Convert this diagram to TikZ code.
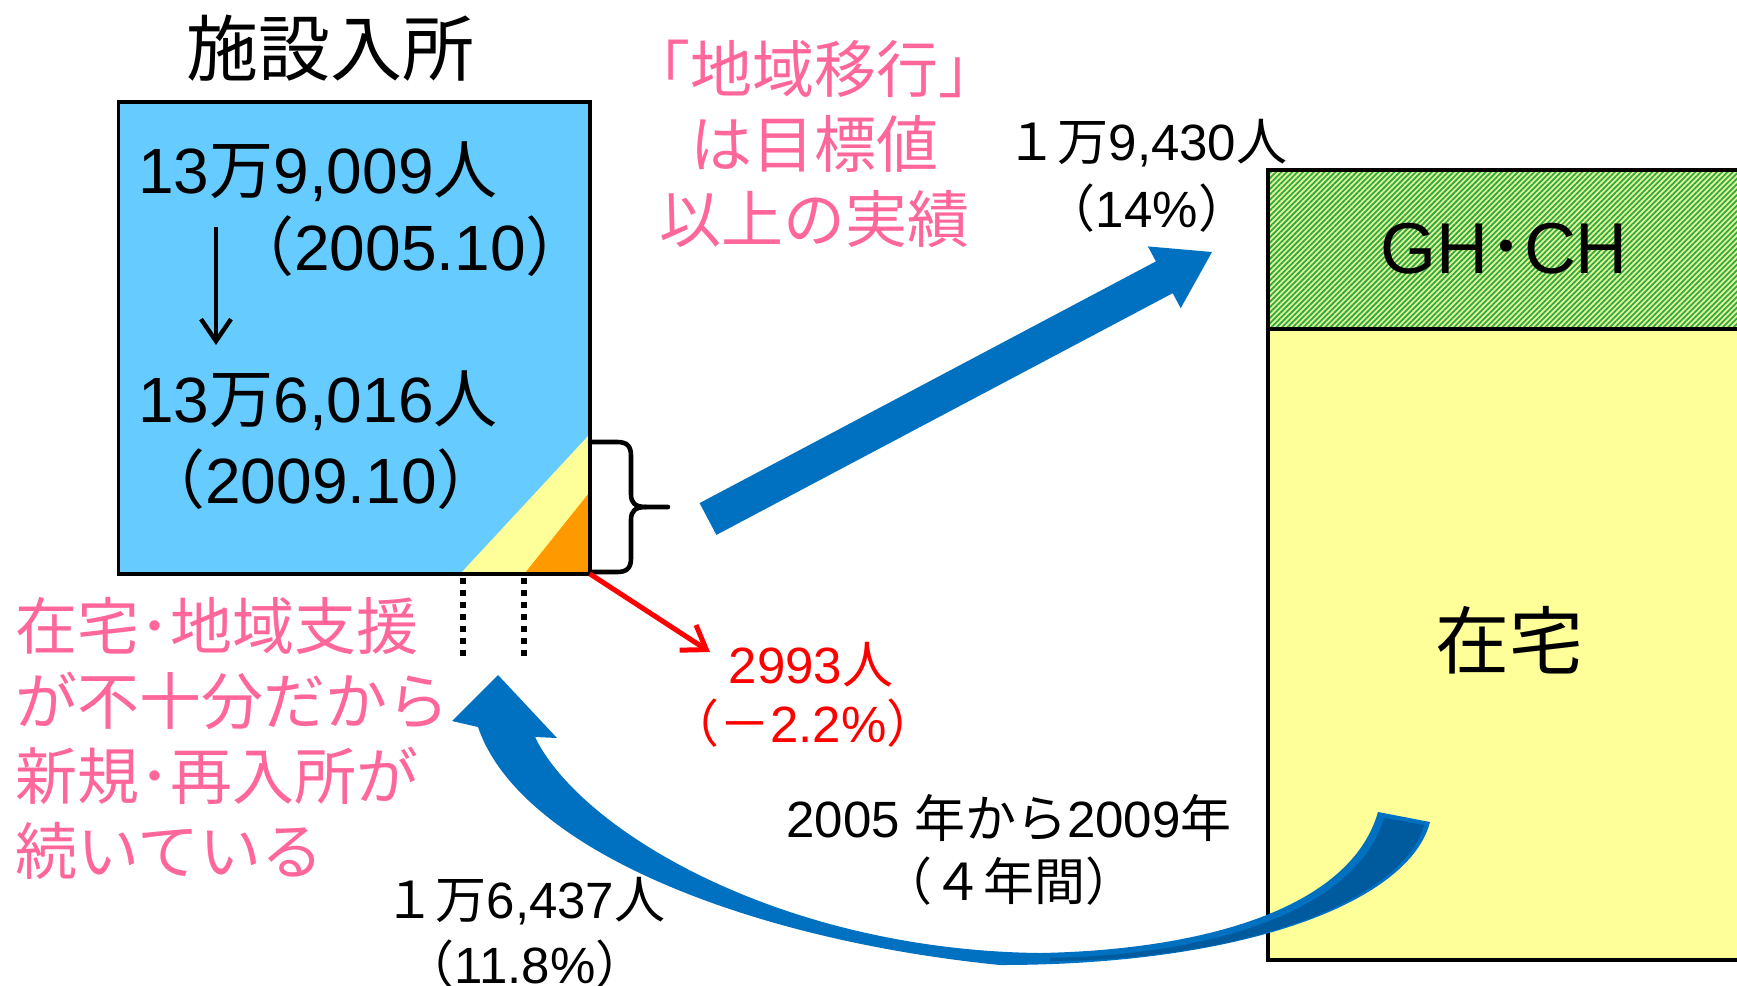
\documentclass[tikz,border=0pt]{standalone}
\usepackage{fontspec}
\setmainfont{Liberation Sans}
\newfontfamily\cjk{Noto Sans CJK JP}
\usetikzlibrary{arrows.meta,patterns.meta}
\newcommand{\cj}[1]{{\cjk #1}}
\definecolor{boxblue}{HTML}{66CCFF}
\definecolor{arrowblue}{HTML}{0070C0}
\definecolor{darkblue}{HTML}{005A9E}
\definecolor{paleyellow}{HTML}{FFFF99}
\definecolor{orangefill}{HTML}{FF9900}
\definecolor{pinktext}{HTML}{FF6699}
\definecolor{hatchgreen}{HTML}{2EA84A}
\definecolor{hatchbg}{HTML}{E6F88F}
\begin{document}
\begin{tikzpicture}[x=0.5pt,y=-0.5pt,
  lbl/.style={inner sep=0pt, font=\fontsize{25.5}{30}\selectfont},
  boxtxt/.style={inner sep=0pt, font=\fontsize{32}{36}\selectfont},
  pinkbig/.style={inner sep=0pt, text=pinktext, font=\cjk\fontsize{31}{37.5}\selectfont},
  border/.style={line width=1.8pt},
  bluearrow/.style={fill=arrowblue}]
\useasboundingbox (0,0) rectangle (1737,986);

% right column
\path[preaction={fill=hatchbg}, pattern={Lines[angle=45,distance=1.9pt,line width=0.9pt]}, pattern color=hatchgreen] (1268,170) rectangle (1800,329);
\fill[paleyellow] (1268,329) rectangle (1800,960);
\draw[border] (1800,170) -- (1268,170) -- (1268,960) -- (1800,960);
\draw[border] (1268,329) -- (1800,329);
\node[inner sep=0pt, font=\fontsize{36}{40}\selectfont] (ghch) at (1504,249) {GH\cj{･}CH};
\node[inner sep=0pt, font=\cjk\fontsize{37}{40}\selectfont] (home) at (1509,640) {在宅};

% straight blue arrow
\fill[bluearrow] (699.6,503.1) -- (1155.9,261.4) -- (1147.9,246.4) -- (1212,252) -- (1180.7,308.2) -- (1172.7,293.2) -- (716.4,534.9) -- cycle;

% curved blue arrow
\fill[bluearrow] (1378,812) .. controls (1350,910) and (1200,950) .. (1040,953)
  .. controls (780,950) and (580,830) .. (535,737)
  -- (557,738) -- (498,675) -- (452,721) -- (478,727)
  .. controls (520,850) and (750,940) .. (1000,965)
  .. controls (1250,965) and (1410,900) .. (1430,822) -- cycle;
\fill[darkblue] (1384,818) .. controls (1356,912) and (1210,955) .. (1050,958)
  -- (1050,961) .. controls (1250,960) and (1404,898) .. (1424,825) -- cycle;

% facility box
\node[fill=boxblue, minimum width=235.25pt, minimum height=235.5pt, inner sep=0pt, anchor=north west] (fac) at (118.5,102) {};
\fill[paleyellow] (589,435) -- (589,573) -- (461,573) -- cycle;
\fill[orangefill] (589,493) -- (589,573) -- (525,573) -- cycle;
\draw[border] (fac.north west) rectangle (fac.south east);

\node[inner sep=0pt, font=\cjk\fontsize{36}{40}\selectfont] (title) at (330,48) {施設入所};

\node[boxtxt, anchor=west] (n2005) at (138,172) {13\cj{万}9,009\cj{人}};
\node[boxtxt] (d2005) at (410,246) {\cj{（}2005.10\cj{）}};
\node[boxtxt, anchor=west] (n2009) at (138,401) {13\cj{万}6,016\cj{人}};
\node[boxtxt] (d2009) at (321,479) {\cj{（}2009.10\cj{）}};
\coordinate (ds) at (216,227);
\coordinate (de) at (216,345);
\draw[line width=2.2pt, -{Straight Barb[length=11pt,width=15pt]}] (ds) -- (de);

% dotted lines
\coordinate (dl1) at (463,578); \coordinate (dl2) at (463,661);
\coordinate (dr1) at (524,578); \coordinate (dr2) at (524,661);
\draw[line width=2.75pt, dash pattern=on 2.75pt off 3.25pt] (dl1) -- (dl2);
\draw[line width=2.75pt, dash pattern=on 2.75pt off 3.25pt] (dr1) -- (dr2);

% brace
\draw[line width=2.3pt, line join=round, line cap=round]
  (590,442) -- (617,442) .. controls (627,442) and (631,446) .. (631,456) -- (631,494)
  .. controls (631,503) and (635,507) .. (646,507) -- (668,507);
\draw[line width=2.3pt, line join=round, line cap=round]
  (646,507) .. controls (635,507) and (631,511) .. (631,520) -- (631,558)
  .. controls (631,568) and (627,572) .. (617,572) -- (590,572);

% red arrow and text
\node[lbl, text=red] (loss) at (811,665) {2993\cj{人}};
\node[lbl, text=red] (lossp) at (803,723) {\cj{（－}2.2\%\cj{）}};
\coordinate (redtip) at (710,652);
\draw[red, line width=2.5pt, -{Straight Barb[length=11pt,width=15pt]}] (fac.south east) -- (redtip);

% pink texts
\node[pinkbig, align=center] (goal) at (814,144) {「地域移行」\\は目標値\\以上の実績};
\node[pinkbig, align=left, anchor=west] (cause) at (15,738) {在宅･地域支援\\が不十分だから\\新規･再入所が\\続いている};

% black labels
\node[lbl] (out1) at (1147,143) {\cj{１万}9,430\cj{人}};
\node[lbl] (out2) at (1147,208) {\cj{（}14\%\cj{）}};
\node[lbl] (in1) at (525,901) {\cj{１万}6,437\cj{人}};
\node[lbl] (in2) at (525,964) {\cj{（}11.8\%\cj{）}};
\node[lbl] (per1) at (1009,818) {2005 \cj{年から}2009\cj{年}};
\node[lbl] (per2) at (1009,881) {\cj{（４年間）}};
\end{tikzpicture}
\end{document}
